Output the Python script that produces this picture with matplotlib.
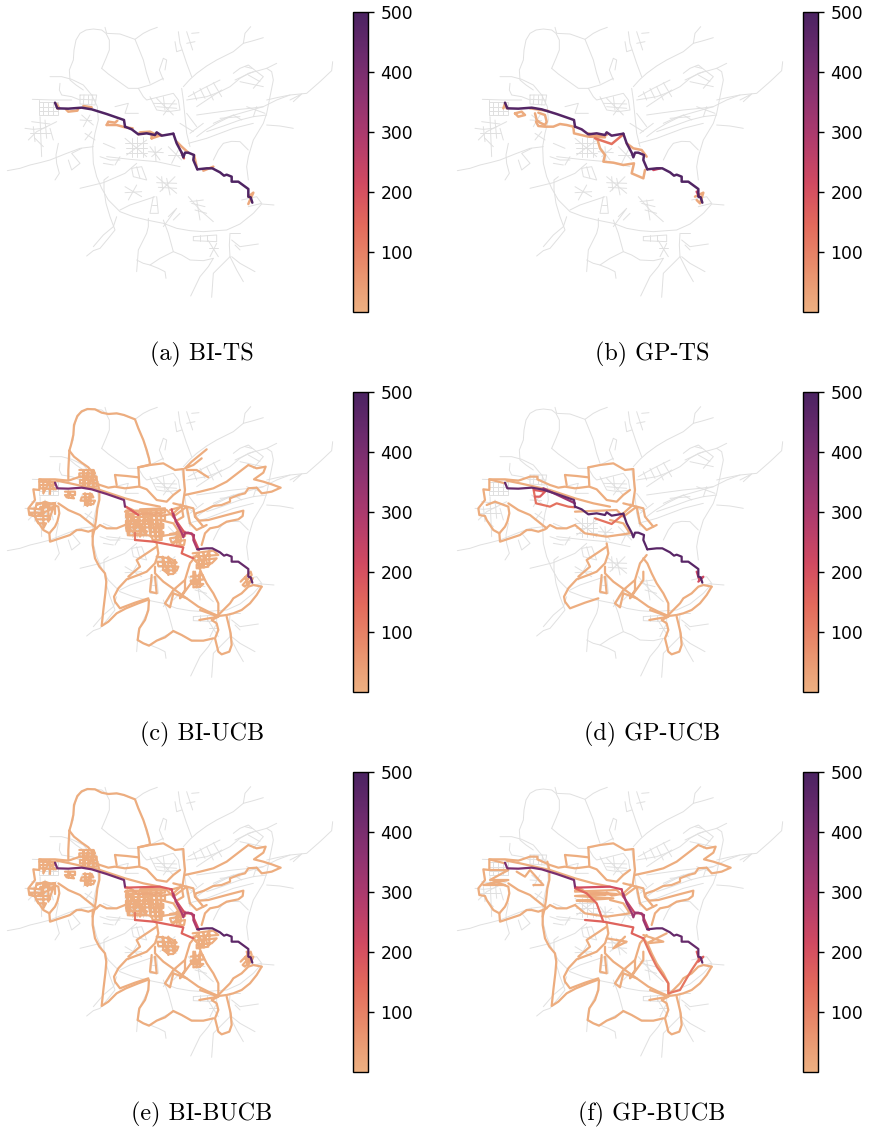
import numpy as np
import matplotlib
matplotlib.use('Agg')
import matplotlib.pyplot as plt
from matplotlib.collections import LineCollection
from matplotlib.colors import LinearSegmentedColormap, Normalize
from matplotlib.cm import ScalarMappable

W, H = 871, 1130
iter_ticks = [100, 200, 300, 400, 500]
flare_colors = ['#edb081', '#e98f6c', '#e36a5c', '#d14a61', '#b13c6c', '#8f3371', '#6c2b6d', '#4b2362']
captions = ['(a) BI-TS', '(b) GP-TS', '(c) BI-UCB', '(d) GP-UCB', '(e) BI-BUCB', '(f) GP-BUCB']

# grey street network, map units
grey_roads = [
    [(305,205),(318,175),(328,150),(328,120),(318,100),(305,90),(280,87),(258,90),(240,100),(228,120),(222,150),(220,180),(208,210),(210,240),(228,255),(250,270)],
    [(305,205),(325,222),(350,240),(385,265),(415,265),(450,255),(490,235)],
    [(315,82),(320,100),(360,102),(405,118),(430,100),(450,90),(472,82)],
    [(405,118),(418,150),(430,180),(440,220),(450,250)],
    [(150,230),(185,230),(215,238),(250,255),(275,285),(292,320),(295,360),(285,400),(278,440),(280,490),(290,530),(305,565),(325,600),(360,635),(400,650),(440,660),(490,670),(530,685),(570,692),(610,695),(650,692),(680,690),(720,672),(760,640),(785,612),(822,615)],
    [(22,512),(60,505),(90,495),(120,488),(150,480),(195,462),(240,445),(280,440)],
    [(260,768),(280,752),(300,745),(325,715),(345,690),(330,650),(318,610),(312,570),(312,540),(325,530)],
    [(350,650),(340,680),(310,705),(280,740)],
    [(445,655),(445,680),(440,700),(425,730),(415,750),(410,815)],
    [(410,780),(430,790),(450,795),(480,775),(520,755),(545,765),(570,780),(610,782),(640,775)],
    [(450,795),(475,805),(495,815),(498,835)],
    [(690,700),(688,735),(690,770),(710,810),(730,845)],
    [(695,770),(720,790),(765,815)],
    [(640,775),(625,800),(600,830),(572,888)],
    [(690,770),(665,795),(640,820),(635,892)],
    [(490,660),(505,700),(520,755)],
    [(545,265),(550,300),(555,350),(560,400),(570,440)],
    [(550,260),(570,238),(590,220),(620,198),(650,180),(700,155),(730,130),(760,122),(790,113)],
    [(730,130),(735,100),(752,80)],
    [(535,95),(540,130),(550,160),(560,190),(575,230)],
    [(560,95),(578,150)],
    [(575,100),(597,98)],
    [(525,125),(530,155),(545,150)],
    [(560,130),(585,125)],
    [(490,175),(478,210),(490,240)],
    [(490,175),(500,180),(495,210)],
    [(560,300),(590,295),(620,290),(660,275),(690,260),(720,235),(745,220),(775,212),(800,205),(830,190)],
    [(800,205),(815,215),(820,240),(810,290),(800,340),(790,370),(760,420),(745,470),(740,500),(745,540)],
    [(800,300),(835,292),(870,285),(920,280),(960,245),(995,212),(998,185)],
    [(590,345),(640,338),(700,330),(750,325),(790,320),(830,300),(870,285)],
    [(620,395),(670,378),(720,360),(760,350),(800,345)],
    [(800,375),(840,378),(880,385)],
    [(590,410),(620,388),(650,370),(700,345)],
    [(565,430),(620,415),(660,400),(700,385),(760,370)],
    [(640,480),(655,450),(670,430),(695,424),(720,425),(745,450)],
    [(118,300),(118,345),(175,345),(175,305),(118,305)],
    [(97,298),(160,300),(215,300)],
    [(130,305),(130,345)],[(145,305),(145,345)],[(160,305),(160,345)],[(118,320),(175,320)],[(118,332),(175,332)],
    [(75,385),(100,388),(130,385),(170,365)],
    [(120,350),(122,400),(125,470)],
    [(85,420),(110,395),(140,380)],
    [(95,365),(150,372)],[(90,400),(150,400)],[(100,380),(105,425)],[(135,360),(140,415)],[(105,415),(130,440)],[(150,385),(160,420)],
    [(175,430),(168,465),(170,490),(178,520),(165,540)],
    [(205,480),(215,510),(240,490),(215,460),(245,445)],
    [(180,250),(178,270),(185,285),(215,290),(240,300)],
    [(240,285),(290,285),(285,315),(240,312),(240,285)],
    [(252,285),(250,312)],[(265,285),(265,312)],[(278,285),(275,315)],[(240,298),(288,300)],
    [(245,345),(262,360),(280,375)],[(250,380),(270,345)],[(240,360),(275,362)],
    [(255,400),(285,420)],[(255,420),(275,395)],
    [(310,430),(345,445)],[(300,470),(330,480),(360,480)],[(340,495),(310,490)],[(360,470),(345,495)],
    [(375,415),(405,440),(440,470)],[(380,465),(440,420)],[(375,430),(440,430)],[(378,445),(440,445)],[(378,458),(440,458)],[(395,415),(395,470)],[(412,410),(412,470)],[(428,410),(428,470)],
    [(345,320),(385,310),(375,340),(415,340)],
    [(415,265),(430,290),(440,300),(480,290),(520,280),(535,300),(540,330),(505,335),(470,330),(450,290)],
    [(470,295),(520,345)],[(490,345),(525,300)],[(460,310),(530,312)],[(470,320),(530,325)],[(490,290),(495,330)],
    [(450,440),(480,480)],[(455,470),(485,445)],[(445,455),(490,458)],[(465,440),(468,485)],
    [(505,440),(545,480)],[(515,490),(535,450)],[(505,465),(545,465)],
    [(320,470),(390,478),(470,485),(540,500)],
    [(470,530),(530,580)],[(480,575),(525,530)],[(500,535),(510,585)],[(470,548),(530,550)],[(475,562),(530,565)],[(485,530),(488,570)],
    [(395,505),(425,500),(440,540),(400,530),(395,505)],[(410,500),(420,535)],
    [(375,560),(425,590)],[(385,600),(410,555)],[(375,578),(425,575)],
    [(240,565),(310,548),(375,520),(410,490)],
    [(460,590),(450,640),(475,640),(470,590)],[(455,615),(472,615)],
    [(505,650),(530,625),(490,680)],[(520,660),(540,640)],
    [(565,590),(600,630),(640,665)],[(600,660),(590,600)],[(615,620),(575,610)],[(570,605),(610,600)],[(585,630),(620,640)],
    [(580,710),(650,705),(650,725),(580,722),(580,710)],[(600,705),(600,722)],[(620,705),(620,722)],
    [(625,722),(655,770)],[(630,770),(650,730)],[(628,745),(655,745)],
    [(690,700),(720,700)],[(695,720),(720,740),(775,732)],[(705,735),(720,750)],
    [(565,290),(610,265),(660,240)],[(665,270),(590,320)],[(620,260),(640,300)],[(580,275),(590,300)],[(600,265),(615,295)],[(640,248),(665,290)],
    [(700,220),(720,205),(745,195),(770,215),(790,230),(760,265)],[(705,240),(760,215)],[(720,245),(790,260)],[(745,225),(780,245)],[(735,200),(755,205)],
    [(640,370),(680,352),(720,340),(790,320)],[(795,340),(740,320)],[(760,350),(770,320)],[(660,355),(720,350)],[(700,345),(725,360)],
    [(870,300),(905,282),(880,305)],
    [(725,600),(770,590),(785,610),(745,620)],
    [(360,630),(390,615),(465,590)],
    [(540,370),(580,395)],[(560,340),(590,380)],[(570,400),(610,370)],
]

# shortest path, split in four stretches, map units of the top row
main_west = [(165,308),(172,325),(205,326),(245,323),(275,328),(320,342),(372,360),(375,380)]
main_mid = [(375,380),(395,388),(415,403),(440,400),(465,405),(470,397),(485,407),(520,401)]
main_centre = [(520,401),(530,430),(545,458),(550,472),(555,458),(565,458),(582,465),(580,480),(592,508)]
main_east = [(592,508),(620,505),(637,505),(660,517),(672,527),(680,524),(695,530),(695,545),(715,545),(745,567),(745,590),(752,592),(757,608)]
main_parts = [main_west, main_mid, main_centre, main_east]

main_values_a = [492, 492, 492, 492]
main_values_b = [480, 470, 480, 485]
main_values_c = [395, 20, 290, 440]
main_values_d = [440, 470, 470, 470]
main_values_e = [410, 20, 290, 460]
main_values_f = [400, 20, 330, 440]

# (a) and (b) explored detours, same frame as main path
side_a = [
    ([(170,312),(178,325),(172,325)], 10),
    ([(198,328),(205,335),(232,332),(235,325)], 15),
    ([(250,318),(275,322)], 15),
    ([(320,375),(325,365),(345,368),(352,362)], 20),
    ([(320,375),(350,375),(375,382),(398,385)], 20),
    ([(415,403),(420,397),(450,395),(470,405)], 15),
    ([(455,415),(470,410),(485,405),(455,405),(455,415)], 20),
    ([(530,425),(545,440),(565,458)], 20),
    ([(545,458),(552,475)], 150),
    ([(582,465),(590,500)], 30),
    ([(610,512),(640,500)], 30),
    ([(745,590),(760,578),(750,600),(745,612)], 20),
]
side_b = [
    ([(160,325),(165,312),(170,325)], 10),
    ([(195,340),(215,335),(225,345),(205,350),(195,340)], 10),
    ([(240,325),(295,333)], 15),
    ([(255,340),(260,360),(270,368),(285,375),(290,365),(285,345),(265,338)], 15),
    ([(258,365),(265,378),(285,380),(310,380),(330,372),(350,375),(370,380),(372,400),(415,410)], 15),
    ([(415,400),(440,410),(450,445),(465,465),(460,485),(490,488),(520,495),(552,490),(545,520),(580,535),(585,510)], 15),
    ([(435,415),(485,432),(520,403)], 130),
    ([(420,410),(470,405)], 40),
    ([(418,402),(465,412),(418,410)], 20),
    ([(530,430),(550,445),(575,450),(590,470)], 20),
    ([(610,510),(630,505)], 220),
    ([(735,590),(760,578),(750,610),(740,600)], 20),
    ([(740,575),(748,590)], 250),
]

# orange routes of the lower rows, map units of that row (30 above top row frame)
core_west = [(165,280),(118,268),(118,300),(100,298),(105,330),(85,355),(88,375),(105,378),(110,390),(130,420),(148,430),(150,455),(180,445),(210,435),(230,420),(245,420),(265,425),(285,418),(300,405),(320,415),(350,415),(375,405)]
core_west2 = [(148,430),(165,410),(172,395),(178,370),(175,350),(135,335),(110,345)]
core_west3 = [(175,340),(205,360),(240,375),(265,395),(290,415)]
core_top = [(118,268),(165,268),(205,272),(240,260),(262,260),(262,268),(300,285),(325,293),(345,290),(375,295),(415,290)]
core_north = [(415,232),(450,225),(490,220),(525,240),(550,237),(552,270),(555,300),(548,345),(520,370)]
core_north2 = [(415,232),(418,290),(440,298),(470,330),(500,335),(520,315),(540,300)]
core_north3 = [(345,255),(380,258),(415,262)]
core_north4 = [(345,255),(350,285)]
core_diag = [(170,272),(210,280),(300,300),(375,325),(430,340),(480,350)]
core_se = [(785,590),(770,615),(750,640),(725,660),(700,670),(680,675),(655,678),(625,665),(595,650),(560,625),(525,600),(490,575),(465,550),(465,530)]
core_se2 = [(785,590),(760,585),(745,590),(725,610),(700,625),(690,640),(655,675)]
core_se3 = [(655,675),(655,640),(640,610),(620,580),(605,550),(592,520),(580,505)]
core_south = [(680,680),(685,700),(692,730),(695,765),(688,785),(665,793),(655,785),(650,765),(645,745),(655,720),(650,700),(635,690),(655,680)]
core_south2 = [(598,690),(655,680),(600,660)]
core_sw = [(445,625),(405,638),(360,655),(345,635),(342,620),(355,595),(380,568),(415,555),(440,545),(455,530),(465,520),(475,490),(470,460)]
core_sw2 = [(470,470),(440,490),(410,510),(420,530),(385,560)]
core_sw3 = [(590,495),(570,520),(555,570),(520,600),(495,640),(510,652),(520,610),(560,625)]
core_sw4 = [(555,570),(555,600),(540,625),(580,570),(580,545)]
core_blocks = [(455,555),(450,605),(470,610),(465,560)]
core_mid = [(375,405),(405,430),(470,440),(540,430),(520,400),(480,390)]
core_mid2 = [(375,365),(500,360),(520,380),(560,350),(570,400),(590,420),(620,405)]
core_east = [(520,340),(580,355),(585,380),(610,410)]
core_parts = [core_west, core_west2, core_west3, core_top, core_north, core_north2, core_north3, core_north4,
              core_diag, core_se, core_se2, core_se3, core_south, core_south2, core_sw, core_sw2, core_sw3,
              core_sw4, core_blocks, core_mid, core_mid2, core_east]

north_loop = [(208,182),(213,165),(220,135),(222,105),(232,78),(245,64),(262,57),(285,58),(305,68),(325,72),(350,70),(372,75),(405,88),(415,115),(430,150),(440,180),(447,205),(450,222),(445,225),(415,232)]
north_west = [(208,182),(222,200),(245,218),(265,232),(283,255),(292,275)]
north_west_low = [(292,275),(298,300),(298,330),(292,355),(288,390),(283,420),(278,440)]
north_west2 = [(208,182),(205,240),(205,270)]
south_west = [(278,420),(278,465),(285,505),(298,530),(315,550),(319,575),(316,610),(310,660),(305,708),(325,695),(350,670),(378,655),(415,640),(442,630)]
south_loop = [(447,630),(445,660),(435,690),(418,715),(413,750),(430,760),(447,767),(470,752),(495,742),(520,723),(545,735),(575,752),(610,752),(640,745)]
east_fingers = [(555,315),(600,305),(640,295),(680,275),(715,248),(745,225),(770,235),(797,230),(790,248),(762,268),(790,275),(815,283),(842,293),(815,305),(785,310),(770,293),(745,295),(735,310),(715,315),(690,325),(690,335),(665,345),(640,348),(612,362),(588,370),(585,380),(598,392),(625,390),(680,375),(730,362),(728,378),(715,388),(680,395),(655,410),(630,415),(615,430),(605,465)]
north_finger = [(620,178),(575,215),(555,235),(580,225),(605,205)]
north_finger2 = [(560,240),(590,240),(625,262)]
wide_parts = [north_west_low, south_west, south_loop, east_fingers]

# dense inner city streets walked by the BI runs
dense_city = [(378,362),(440,362),(438,372),(378,372),(378,382),(445,380),(450,392),(378,392),(378,402),(455,402),(455,412),(378,412),(380,424),(440,424),(435,436),(388,436),(382,362),(384,436),(400,362),(402,436),(418,365),(420,440),(435,365),(435,430),(378,365),(440,425)]
dense_city2 = [(420,358),(495,355),(495,368),(425,368),(430,378),(495,378),(495,390),(440,390),(445,402),(490,402),(490,414),(450,414),(450,426),(490,426),(490,438),(455,438),(458,450),(485,450),(483,362),(480,450),(468,358),(468,450),(452,360),(452,440),(440,362),(445,400)]
dense_west = [(88,355),(125,358),(125,368),(90,368),(100,378),(150,378),(150,388),(108,388),(115,400),(138,400),(130,415),(130,345),(145,345),(145,395),(165,340),(110,340),(105,360),(105,380),(165,352),(120,352),(165,340),(165,372)]
dense_west2 = [(118,275),(165,275),(165,285),(120,285),(120,295),(168,298),(130,270),(130,310),(150,270),(150,312)]
dense_north = [(238,240),(280,240),(285,250),(238,250),(238,260),(290,260),(290,270),(240,270),(240,280),(290,280),(290,290),(255,290),(250,240),(250,290),(265,240),(265,292),(280,240),(280,292)]
dense_north2 = [(250,312),(275,312),(280,322),(245,322),(242,332),(285,332),(280,342),(255,345),(255,310),(262,348),(270,310),(272,345)]
dense_west3 = [(195,305),(225,305),(225,315),(195,315),(200,322),(222,325),(205,305),(205,322)]
dense_south = [(470,500),(510,505),(530,518),(472,515),(475,528),(535,530),(530,542),(490,540),(505,552),(520,552),(525,510),(525,548),(505,500),(505,555),(488,500),(490,540)]
dense_centre = [(510,432),(555,425),(555,438),(510,445),(515,458),(555,450),(552,465),(530,468),(530,425),(540,468),(545,422),(520,462)]
dense_east = [(578,490),(640,482),(655,495),(580,500),(585,512),(650,505),(635,520),(590,524),(590,535),(625,530),(610,488),(612,532),(595,490),(598,535),(628,482),(628,525)]
dense_east2 = [(572,560),(608,555),(612,568),(572,572),(575,582),(610,582),(600,590),(580,592),(585,545),(590,592),(600,545),(600,590)]
dense_far = [(722,575),(752,545),(755,555),(728,585),(735,590),(758,565),(745,585),(735,562),(745,578)]
dense_inner = [(510,360),(545,350),(550,380),(525,395)]
dense_core = [dense_city, dense_city2, dense_west, dense_west2, dense_west3, dense_north, dense_north2, dense_south, dense_centre, dense_east, dense_east2, dense_far, dense_inner]

# GP-BUCB only walks part of those streets
sparse_city = [(375,362),(500,372),(375,378),(490,385),(380,392),(430,395)]
sparse_f = [(118,300),(175,300),(120,330),(175,330),(100,345),(165,345)]
sparse_f2 = [(200,305),(225,320),(240,300),(280,345),(250,345)]
sparse_f3 = [(470,505),(530,515),(490,535),(525,500)]
sparse_f4 = [(580,495),(640,515),(590,520),(650,490)]

# red and purple stretches of the lower rows
upper_red = [(375,353),(480,350),(515,358)]
upper_red2 = [(515,358),(520,380),(555,430),(575,430),(597,480)]
lower_red = [(405,450),(460,455),(550,472),(545,490),(580,505)]
city_red = [(378,350),(415,375)]
join_red = [(405,430),(405,450)]
inner_red = [(375,355),(410,370),(440,400),(460,455)]
far_red = [(580,505),(600,550),(620,590),(655,640),(655,670),(690,660),(710,625),(725,600),(745,570)]
west_red = [(250,295),(258,340),(300,350),(320,340),(355,350),(375,352)]
west_red2 = [(252,300),(285,305),(270,320),(255,320)]
inner_d = [(435,385),(485,402),(520,373)]
far_d = [(740,545),(748,570),(760,560),(745,575)]
main_d_red = [(280,295),(375,340)]

routes_c = [(r, 8) for r in core_parts + wide_parts + dense_core] + [(north_west, 8), (north_loop, 8), (north_west2, 8), (north_finger, 8), (north_finger2, 8),
    (city_red, 170), (upper_red2, 190), (lower_red, 150), (join_red, 110)]
routes_d = [(r, 8) for r in core_parts] + [(west_red, 130), (west_red2, 170), (inner_d, 130), (far_d, 220), (main_d_red, 330)]
routes_e = [(r, 8) for r in core_parts + wide_parts + dense_core] + [(north_west, 8), (north_loop, 8), (north_west2, 8),
    (upper_red, 170), (upper_red2, 210), (lower_red, 160), (join_red, 110), (far_d, 20)]
routes_f = [(r, 8) for r in core_parts + wide_parts] + [(sparse_city, 8), (sparse_f, 8), (sparse_f2, 8), (sparse_f3, 8), (sparse_f4, 8),
    (upper_red, 210), (upper_red2, 240), (lower_red, 160), (inner_red, 150), (far_red, 120), (far_d, 170)]

panel_routes = [side_a, side_b, routes_c, routes_d, routes_e, routes_f]
panel_main = [main_values_a, main_values_b, main_values_c, main_values_d, main_values_e, main_values_f]
panel_line = [1.8, 1.8, 1.6, 1.6, 1.6, 1.6]

cmap = LinearSegmentedColormap.from_list('flare', flare_colors)
norm = Normalize(1, 500)

fig = plt.figure(figsize=(W / 100, H / 100), dpi=100)


def px_axes(x, y, w, h):
    return fig.add_axes([x / W, 1 - (y + h) / H, w / W, h / H])


for i in range(6):
    col = i % 2
    row = i // 2
    ox = col * 450
    oy = row * 380
    ax = px_axes(ox, oy, 345, 340)
    ax.set_xlim(0, 1035)
    ax.set_ylim(1020, 0)
    ax.axis('off')
    ax.add_collection(LineCollection(grey_roads, colors='#e0e0e0', linewidths=0.7, capstyle='round', joinstyle='round'))
    shift = 30 if row > 0 else 0
    segs = [(np.array(r, dtype=float) + [0, shift], v) for r, v in panel_routes[i]]
    for part, v in zip(main_parts, panel_main[i]):
        segs.append((np.array(part, dtype=float), v))
    segs.sort(key=lambda s: s[1])
    lc = LineCollection([s[0] for s in segs], cmap=cmap, norm=norm, linewidths=panel_line[i], capstyle='round', joinstyle='round')
    lc.set_array(np.array([s[1] for s in segs], dtype=float))
    ax.add_collection(lc)

    cax = px_axes(ox + 353, oy + 12, 15, 299.5)
    cb = fig.colorbar(ScalarMappable(norm=norm, cmap=cmap), cax=cax, ticks=iter_ticks)
    cb.ax.tick_params(labelsize=12.3, length=4.5, width=1, pad=4.5)
    cb.outline.set_linewidth(1)
    fig.text((ox + 202) / W, 1 - (oy + 354) / H, captions[i], family='cmr10', fontsize=17.4, ha='center', va='center')

plt.savefig('out.png', dpi=100)
